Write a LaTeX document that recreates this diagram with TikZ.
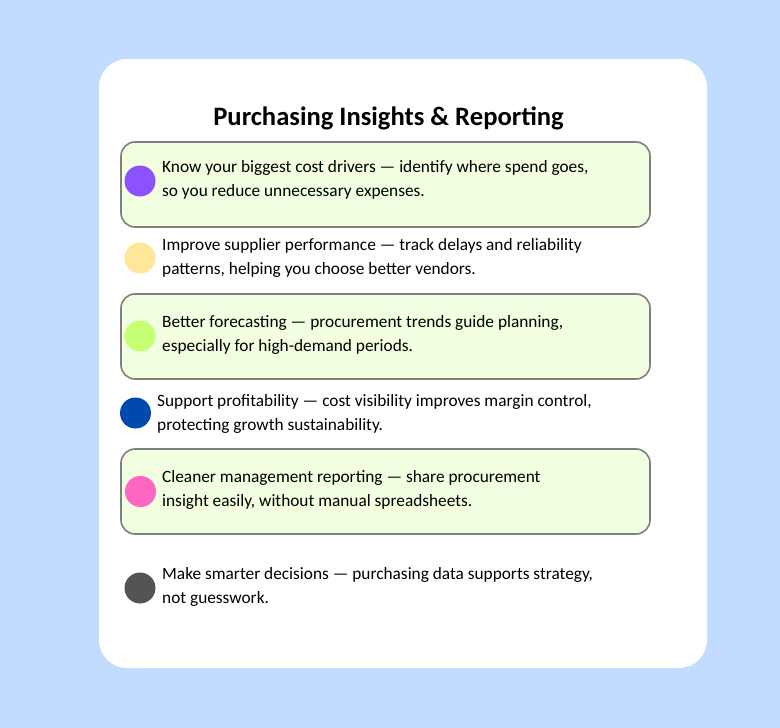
\documentclass[tikz,border=0pt]{standalone}
\usepackage{fontspec}
\setmainfont{Carlito}
\definecolor{bgblue}{HTML}{C2DCFF}
\definecolor{boxfill}{HTML}{F1FEE0}
\definecolor{boxline}{HTML}{7F7F7F}
\definecolor{cpurple}{HTML}{8C52FF}
\definecolor{cyellow}{HTML}{FFE699}
\definecolor{cgreen}{HTML}{C6FF75}
\definecolor{cblue}{HTML}{004AAD}
\definecolor{cpink}{HTML}{FF66C4}
\definecolor{cgray}{HTML}{545454}
\begin{document}
\begin{tikzpicture}[x=1pt,y=-1pt,
  hlbox/.style={draw=boxline,fill=boxfill,line width=1.6pt,rounded corners=14pt},
  dot/.style={circle,inner sep=0pt,minimum size=31pt},
  itemtext/.style={anchor=base west,inner sep=0pt,font=\fontsize{17.3}{24}\selectfont,text=black}]
\fill[bgblue] (0,0) rectangle (780,728);
\useasboundingbox (0,0) rectangle (780,728);
\fill[white,rounded corners=28pt] (99,59) rectangle (707,668);
\node[anchor=base,inner sep=0pt,font=\fontsize{26.6}{30}\selectfont\bfseries] (title) at (388.5,125) {Purchasing Insights \& Reporting};
\draw[hlbox] (121,142) rectangle (650,227);
\draw[hlbox] (121,294) rectangle (650,379);
\draw[hlbox] (121,449) rectangle (650,534);
\node[dot,fill=cpurple] (d1) at (140,181) {};
\node[dot,fill=cyellow] (d2) at (140,258) {};
\node[dot,fill=cgreen] (d3) at (140,336) {};
\node[dot,fill=cblue] (d4) at (135.5,413) {};
\node[dot,fill=cpink] (d5) at (140.5,491.5) {};
\node[dot,fill=cgray] (d6) at (140,588) {};
\node[itemtext] (t1) at (162,172) {\parbox[t]{520pt}{Know your biggest cost drivers — identify where spend goes,\\so you reduce unnecessary expenses.}};
\node[itemtext] (t2) at (162,250.5) {\parbox[t]{520pt}{Improve supplier performance — track delays and reliability\\patterns, helping you choose better vendors.}};
\node[itemtext] (t3) at (162,327) {\parbox[t]{520pt}{Better forecasting — procurement trends guide planning,\\especially for high-demand periods.}};
\node[itemtext] (t4) at (157,406.5) {\parbox[t]{520pt}{Support profitability — cost visibility improves margin control,\\protecting growth sustainability.}};
\node[itemtext] (t5) at (162,482.5) {\parbox[t]{520pt}{Cleaner management reporting — share procurement\\insight easily, without manual spreadsheets.}};
\node[itemtext] (t6) at (162,579.5) {\parbox[t]{520pt}{Make smarter decisions — purchasing data supports strategy,\\not guesswork.}};
\end{tikzpicture}
\end{document}
